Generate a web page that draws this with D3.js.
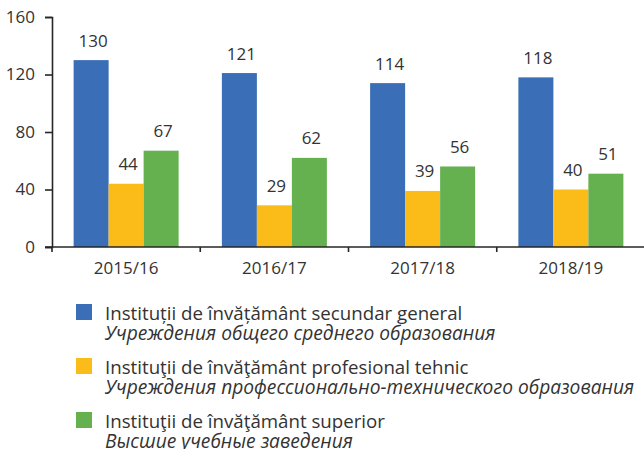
<!DOCTYPE html>
<html>
<head>
<meta charset="utf-8">
<script src="https://d3js.org/d3.v7.min.js"></script>
<style>
  body { margin: 0; background: #fff; }
  text { font-family: "Open Sans", "Noto Sans", sans-serif; fill: #333; }
</style>
</head>
<body>
<svg id="chart" width="644" height="449"></svg>
<script>
    // data
    const years = ["2015/16", "2016/17", "2017/18", "2018/19"];
    const secundar = [130, 121, 114, 118];
    const profesional = [44, 29, 39, 40];
    const superior = [67, 62, 56, 51];
    const yTicks = [0, 40, 80, 120, 160];

    const seriesNames = [
        ["Instituții de învățământ secundar general", "Учреждения общего среднего образования"],
        ["Instituţii de învăţământ profesional tehnic", "Учреждения профессионально-технического образования"],
        ["Instituţii de învăţământ superior", "Высшие учебные заведения"]
    ];
    const colors = ["#3a6eb6", "#fbbb19", "#65b04f"];
    const series = [secundar, profesional, superior];

    const svg = d3.select("#chart");
    const mLeft = 52, mRight = 645, mTop = 17, mBottom = 247;

    const x = d3.scaleBand().domain(years).range([mLeft, mRight]);
    const xs = d3.scaleBand().domain(d3.range(3)).range([0, 105]);
    const y = d3.scaleLinear().domain([0, 160]).range([mBottom, mTop]);

    // y axis
    const yAxis = svg.append("g")
        .attr("transform", `translate(${mLeft},0)`)
        .call(d3.axisLeft(y).tickValues(yTicks).tickSize(7).tickPadding(10));
    yAxis.select(".domain").attr("stroke", "#262626").attr("stroke-width", 1.6);
    yAxis.selectAll(".tick line").attr("stroke", "#262626").attr("stroke-width", 1.6);
    yAxis.selectAll("text").attr("font-size", 17).attr("fill", "#333");

    // bars
    const groups = svg.append("g").selectAll("g")
        .data(years)
        .join("g")
        .attr("transform", d => `translate(${x(d) + (x.bandwidth() - 105) / 2},0)`);

    groups.selectAll("rect")
        .data((d, i) => series.map((s, k) => ({ k, v: s[i] })))
        .join("rect")
        .attr("x", d => xs(d.k))
        .attr("width", xs.bandwidth())
        .attr("y", d => y(d.v))
        .attr("height", d => mBottom - y(d.v))
        .attr("fill", d => colors[d.k]);

    groups.selectAll("text.val")
        .data((d, i) => series.map((s, k) => ({ k, v: s[i] })))
        .join("text")
        .attr("class", "val")
        .attr("x", d => xs(d.k) + xs.bandwidth() / 2 + 2)
        .attr("y", d => y(d.v) - 13.5)
        .attr("text-anchor", "middle")
        .attr("font-size", 17)
        .text(d => d.v);

    // x axis
    const xAxis = svg.append("g")
        .attr("transform", `translate(0,${mBottom})`)
        .call(d3.axisBottom(x).tickSize(0).tickPadding(15));
    xAxis.select(".domain").remove();
    xAxis.selectAll("text").attr("font-size", 17).attr("fill", "#333");
    svg.append("line")
        .attr("x1", mLeft - 7).attr("x2", mRight)
        .attr("y1", mBottom).attr("y2", mBottom)
        .attr("stroke", "#262626").attr("stroke-width", 1.6);
    svg.append("g").selectAll("line")
        .data(years)
        .join("line")
        .attr("x1", d => x(d)).attr("x2", d => x(d))
        .attr("y1", mBottom).attr("y2", mBottom + 5)
        .attr("stroke", "#262626").attr("stroke-width", 1.6);

    // legend
    const legend = svg.append("g").selectAll("g")
        .data(seriesNames)
        .join("g")
        .attr("transform", (d, i) => `translate(76,${304 + i * 54})`);
    legend.append("rect")
        .attr("width", 16).attr("height", 16)
        .attr("fill", (d, i) => colors[i]);
    legend.append("text")
        .attr("x", 29).attr("y", 16)
        .attr("font-size", 18.7)
        .text(d => d[0]);
    legend.append("text")
        .attr("x", 29).attr("y", 36)
        .attr("font-size", 19.2)
        .attr("font-style", "italic")
        .text(d => d[1]);
</script>
</body>
</html>
